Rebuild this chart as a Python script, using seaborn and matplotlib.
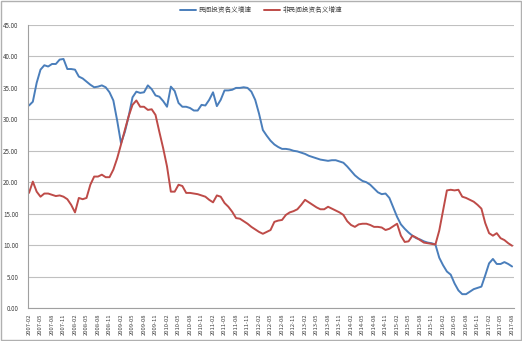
import numpy as np
import pandas as pd
import matplotlib
matplotlib.use("Agg")
import matplotlib.pyplot as plt
import seaborn as sns
from matplotlib.patches import Rectangle

# ---- data ----
months = [str(p) for p in pd.period_range("2007-02", "2017-08", freq="M")]

private_growth = [
    32.2, 32.8, 35.8, 37.9, 38.6, 38.4, 38.8, 38.8, 39.5, 39.6,
    38.0, 38.0, 37.9, 36.8, 36.5, 36.0, 35.5, 35.1, 35.2, 35.4,
    35.1, 34.3, 33.0, 29.8, 26.2, 28.0, 30.5, 33.5, 34.4, 34.2,
    34.3, 35.4, 34.8, 33.8, 33.6, 32.9, 32.0, 35.2, 34.5, 32.6,
    32.0, 32.0, 31.8, 31.4, 31.4, 32.3, 32.2, 33.1, 34.3, 32.1,
    33.1, 34.6, 34.6, 34.7, 35.0, 35.0, 35.1, 35.0, 34.4, 33.1,
    30.9, 28.3, 27.4, 26.6, 26.0, 25.6, 25.3, 25.3, 25.2, 25.0,
    24.9, 24.7, 24.5, 24.2, 24.0, 23.8, 23.6, 23.5, 23.4, 23.5,
    23.5, 23.3, 23.1, 22.5, 21.8, 21.1, 20.6, 20.2, 20.0, 19.6,
    19.0, 18.4, 18.1, 18.2, 17.5, 16.0, 14.5, 13.3, 12.6, 12.0,
    11.5, 11.1, 10.9, 10.6, 10.4, 10.3, 10.1, 8.0, 6.8, 5.8,
    5.3, 3.9, 2.8, 2.2, 2.2, 2.6, 3.0, 3.2, 3.4, 5.2,
    7.1, 7.8, 7.0, 7.0, 7.3, 7.0, 6.6,
]

nonprivate_growth = [
    18.3, 20.1, 18.5, 17.7, 18.2, 18.2, 18.0, 17.8, 17.9, 17.7,
    17.3, 16.4, 15.2, 17.5, 17.3, 17.5, 19.6, 20.9, 20.9, 21.2,
    20.8, 20.8, 22.0, 23.8, 26.0, 28.3, 30.5, 32.3, 33.0, 32.0,
    32.0, 31.5, 31.6, 30.7, 28.0, 25.4, 22.5, 18.5, 18.5, 19.6,
    19.4, 18.3, 18.3, 18.2, 18.1, 17.9, 17.7, 17.2, 16.8, 17.9,
    17.7, 16.7, 16.1, 15.3, 14.3, 14.2, 13.8, 13.4, 12.9, 12.5,
    12.1, 11.8, 12.1, 12.4, 13.7, 13.9, 14.0, 14.8, 15.2, 15.4,
    15.7, 16.4, 17.2, 16.8, 16.4, 16.0, 15.7, 15.7, 16.1, 15.8,
    15.5, 15.2, 14.8, 13.8, 13.2, 12.9, 13.3, 13.4, 13.4, 13.2,
    12.9, 12.9, 12.8, 12.4, 12.6, 13.0, 13.4, 11.5, 10.5, 10.6,
    11.5, 11.2, 10.8, 10.4, 10.3, 10.2, 10.1, 12.3, 15.5, 18.7,
    18.8, 18.7, 18.8, 17.7, 17.5, 17.2, 16.9, 16.4, 15.8, 13.5,
    11.9, 11.5, 11.9, 11.1, 10.8, 10.3, 9.9,
]

series_names = ["民间投资名义增速", "非民间投资名义增速"]
y_ticks = [0, 5, 10, 15, 20, 25, 30, 35, 40, 45]

# ---- style ----
sns.set_style("white")
plt.rcParams["font.family"] = ["Noto Sans CJK SC", "DejaVu Sans"]
text_color = "#404040"
grid_color = "#c0c0c0"
blue = "#4a7ebb"
red = "#be4b48"

W, H = 522, 341
fig = plt.figure(figsize=(W / 100, H / 100), dpi=100)
ax = fig.add_axes([28 / W, 1 - 308 / H, (514 - 28) / W, (308 - 25) / H])

idx = np.arange(len(months))
df = pd.DataFrame({"idx": idx, "private": private_growth, "nonprivate": nonprivate_growth})

sns.lineplot(data=df, x="idx", y="private", ax=ax, color=blue, linewidth=1.4,
             label=series_names[0], legend=False)
sns.lineplot(data=df, x="idx", y="nonprivate", ax=ax, color=red, linewidth=1.4,
             label=series_names[1], legend=False)

ax.set_xlim(-0.26, len(months) - 1 + 0.5)
ax.set_ylim(0, 45)
ax.set_yticks(y_ticks)
ax.set_yticklabels([f"{v:.2f}" for v in y_ticks], fontsize=4.5, color=text_color)
tick_pos = idx[::3]
ax.set_xticks(tick_pos)
ax.set_xticklabels([months[i] for i in tick_pos], rotation=90, fontsize=4.2, color=text_color)
ax.set_xlabel("")
ax.set_ylabel("")

ax.yaxis.grid(True, color=grid_color, linewidth=0.8)
ax.set_axisbelow(True)
for s in ["top", "right"]:
    ax.spines[s].set_visible(False)
for s in ["left", "bottom"]:
    ax.spines[s].set_color("#a0a0a0")
    ax.spines[s].set_linewidth(0.8)
ax.tick_params(axis="y", length=0, pad=7)
ax.tick_params(axis="x", length=2.5, width=0.6, color="#a0a0a0", pad=1.5, direction="out")

handles, labels = ax.get_legend_handles_labels()
fig.legend(handles, labels, loc="center", bbox_to_anchor=(261 / W, 1 - 10 / H), ncol=2,
           frameon=False, fontsize=4.8, handlelength=2.4, columnspacing=1.8,
           labelcolor=text_color, handletextpad=0.4)

fig.patches.append(Rectangle((0.001, 0.002), 0.997, 0.995, transform=fig.transFigure,
                             fill=False, edgecolor="#b0b0b0", linewidth=1))

fig.savefig("out.png", dpi=100)
